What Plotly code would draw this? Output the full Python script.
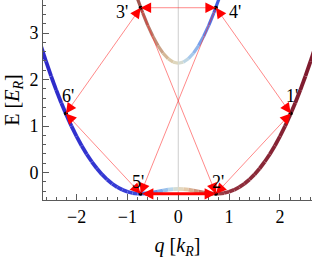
import plotly.graph_objects as go
from plotly.colors import sample_colorscale
import math

# ---- data ----
# lower band E(q) (units E_R), sampled every 0.1 k_R (symmetric)
q_pos = [0.0, 0.1, 0.2, 0.3, 0.4, 0.5, 0.6, 0.7, 0.8, 0.9, 1.0, 1.1, 1.2, 1.3,
         1.4, 1.5, 1.6, 1.7, 1.8, 1.9, 2.0, 2.1, 2.2, 2.3, 2.4, 2.5, 2.6, 2.7]
E_low_pos = [-0.350, -0.355, -0.368, -0.387, -0.409, -0.430, -0.446, -0.455,
             -0.453, -0.440, -0.413, -0.371, -0.314, -0.240, -0.149, -0.040,
             0.087, 0.232, 0.395, 0.577, 0.778, 0.998, 1.238, 1.496, 1.774,
             2.071, 2.388, 2.724]
# upper band (only the visible part)
q_up_pos = [0.0, 0.1, 0.2, 0.3, 0.4, 0.5, 0.6, 0.7, 0.8, 0.9]
E_up_pos = [2.350, 2.375, 2.448, 2.567, 2.729, 2.930, 3.166, 3.435, 3.733, 4.060]

q_low = [-v for v in q_pos[::-1]] + q_pos[1:]
E_low = E_low_pos[::-1] + E_low_pos[1:]
q_up = [-v for v in q_up_pos[::-1]] + q_up_pos[1:]
E_up = E_up_pos[::-1] + E_up_pos[1:]

# labelled points
pt_labels = ["1'", "2'", "3'", "4'", "5'", "6'"]
pt_q = [2.21, 0.74, -0.74, 0.74, -0.74, -2.21]
pt_E = [1.27, -0.456, 3.544, 3.544, -0.456, 1.27]

# transitions (label pairs)
double_arrows = [("3'", "4'"), ("3'", "6'"), ("6'", "5'"), ("2'", "1'"), ("1'", "4'")]
single_arrows = [("3'", "2'"), ("4'", "5'")]   # head at second point
thick_arrow = ("5'", "2'")

x_ticks = [-2, -1, 0, 1, 2]
y_ticks = [0, 1, 2, 3]

# ---- layout geometry ----
W, H = 312, 260
ML, MR, MT, MB = 43, 0, 0, 60
XR = [-2.66, 2.63]
YR = [-0.59, 3.71]
sx = (W - ML - MR) / (XR[1] - XR[0])
sy = (H - MT - MB) / (YR[1] - YR[0])

# colour along the bands (spin polarisation) as a function of q
QMAX = 2.7
cs_low = [  # position = (q/QMAX + 1)/2
    [0.0, "rgb(45,40,200)"],
    [0.315, "rgb(55,62,215)"],
    [0.389, "rgb(68,95,225)"],
    [0.435, "rgb(125,170,235)"],
    [0.472, "rgb(185,215,235)"],
    [0.5, "rgb(226,222,200)"],
    [0.528, "rgb(228,202,170)"],
    [0.565, "rgb(205,150,125)"],
    [0.611, "rgb(170,85,82)"],
    [0.685, "rgb(145,48,62)"],
    [1.0, "rgb(125,25,45)"],
]
cs_up = [
    [0.0, "rgb(155,75,70)"],
    [0.363, "rgb(160,85,78)"],
    [0.407, "rgb(188,130,112)"],
    [0.463, "rgb(218,195,160)"],
    [0.5, "rgb(224,222,200)"],
    [0.537, "rgb(180,212,236)"],
    [0.583, "rgb(120,160,235)"],
    [0.637, "rgb(65,92,225)"],
    [1.0, "rgb(50,65,220)"],
]


def col(qv, cs):
    t = min(max((qv / QMAX + 1) / 2, 0), 1)
    return sample_colorscale(cs, [t])[0]


fig = go.Figure()

# vertical gray line at q = 0
fig.add_shape(type="line", x0=0, x1=0, y0=0, y1=1, xref="x", yref="paper",
              line=dict(color="rgb(205,205,205)", width=1), layer="below")

# bands as coloured segments
for qs, Es, cs, w in [(q_low, E_low, cs_low, 3.8), (q_up, E_up, cs_up, 3.2)]:
    for i in range(len(qs) - 1):
        qm = (qs[i] + qs[i + 1]) / 2
        fig.add_trace(go.Scatter(x=[qs[i], qs[i + 1]], y=[Es[i], Es[i + 1]],
                                 mode="lines", line=dict(color=col(qm, cs), width=w),
                                 hoverinfo="skip", showlegend=False))

idx = {lab: i for i, lab in enumerate(pt_labels)}
thin_col = "rgba(255,40,40,0.55)"

# thin transition lines
for a, b in double_arrows + single_arrows:
    ia, ib = idx[a], idx[b]
    fig.add_trace(go.Scatter(x=[pt_q[ia], pt_q[ib]], y=[pt_E[ia], pt_E[ib]],
                             mode="lines", line=dict(color=thin_col, width=1),
                             hoverinfo="skip", showlegend=False))


def head(tip, other, L=10):
    it, io = idx[tip], idx[other]
    dx = (pt_q[io] - pt_q[it]) * sx
    dy = -(pt_E[io] - pt_E[it]) * sy
    n = math.hypot(dx, dy)
    fig.add_annotation(x=pt_q[it], y=pt_E[it], ax=dx / n * L, ay=dy / n * L,
                       xref="x", yref="y", showarrow=True, arrowhead=2,
                       arrowsize=2.1, arrowwidth=1, arrowcolor="red",
                       standoff=0, text="")


# black points
fig.add_trace(go.Scatter(x=pt_q, y=pt_E, mode="markers",
                         marker=dict(color="black", size=4),
                         hoverinfo="skip", showlegend=False))

for a, b in double_arrows:
    head(a, b)
    head(b, a)
for a, b in single_arrows:
    head(b, a)

# thick arrow 5' <-> 2'
ia, ib = idx[thick_arrow[0]], idx[thick_arrow[1]]
fig.add_annotation(x=pt_q[ib], y=pt_E[ib], ax=pt_q[ia], ay=pt_E[ia],
                   xref="x", yref="y", axref="x", ayref="y",
                   showarrow=True, arrowhead=2, startarrowhead=2,
                   arrowside="end+start", arrowsize=0.75, startarrowsize=0.75,
                   arrowwidth=3, arrowcolor="red", standoff=0, startstandoff=0,
                   text="")

# point labels
offsets = {"1'": (1, 17), "2'": (2, 12), "3'": (-19, -4),
           "4'": (19, -4), "5'": (-3, 12), "6'": (2, 17)}
for lab, qv, ev in zip(pt_labels, pt_q, pt_E):
    xs, ys = offsets[lab]
    fig.add_annotation(x=qv, y=ev, text=lab, showarrow=False, xshift=xs, yshift=ys,
                       font=dict(family="Liberation Serif", size=18, color="black"))

axis_common = dict(showgrid=False, zeroline=False, showline=True,
                   linecolor="rgb(90,90,90)", linewidth=1, ticks="inside",
                   ticklen=6, tickcolor="rgb(90,90,90)", tickwidth=1,
                   tickfont=dict(family="Liberation Serif", size=18, color="black"),
                   mirror=False)

fig.update_layout(
    width=W, height=H,
    margin=dict(l=ML, r=MR, t=MT, b=MB, pad=0),
    plot_bgcolor="white", paper_bgcolor="white",
    showlegend=False,
    xaxis=dict(range=XR, tickmode="array", tickvals=x_ticks,
               ticktext=[("\u2212" + str(-v)) if v < 0 else str(v) for v in x_ticks],
               minor=dict(ticks="inside", ticklen=3, dtick=0.2, tick0=0,
                          tickcolor="rgb(90,90,90)", showgrid=False),
               title=dict(text="<i>q</i> [<i>k</i><sub><i>R</i></sub>]",
                          font=dict(family="Liberation Serif", size=20, color="black"),
                          standoff=12),
               **axis_common),
    yaxis=dict(range=YR, tickmode="array", tickvals=y_ticks,
               minor=dict(ticks="inside", ticklen=3, dtick=0.2, tick0=0,
                          tickcolor="rgb(90,90,90)", showgrid=False),
               title=dict(text="E [<i>E</i><sub><i>R</i></sub>]",
                          font=dict(family="Liberation Serif", size=20, color="black"),
                          standoff=4),
               **axis_common),
)

fig.write_html("out.html", config={"displayModeBar": False},
               post_script="document.body.style.margin='0';")
